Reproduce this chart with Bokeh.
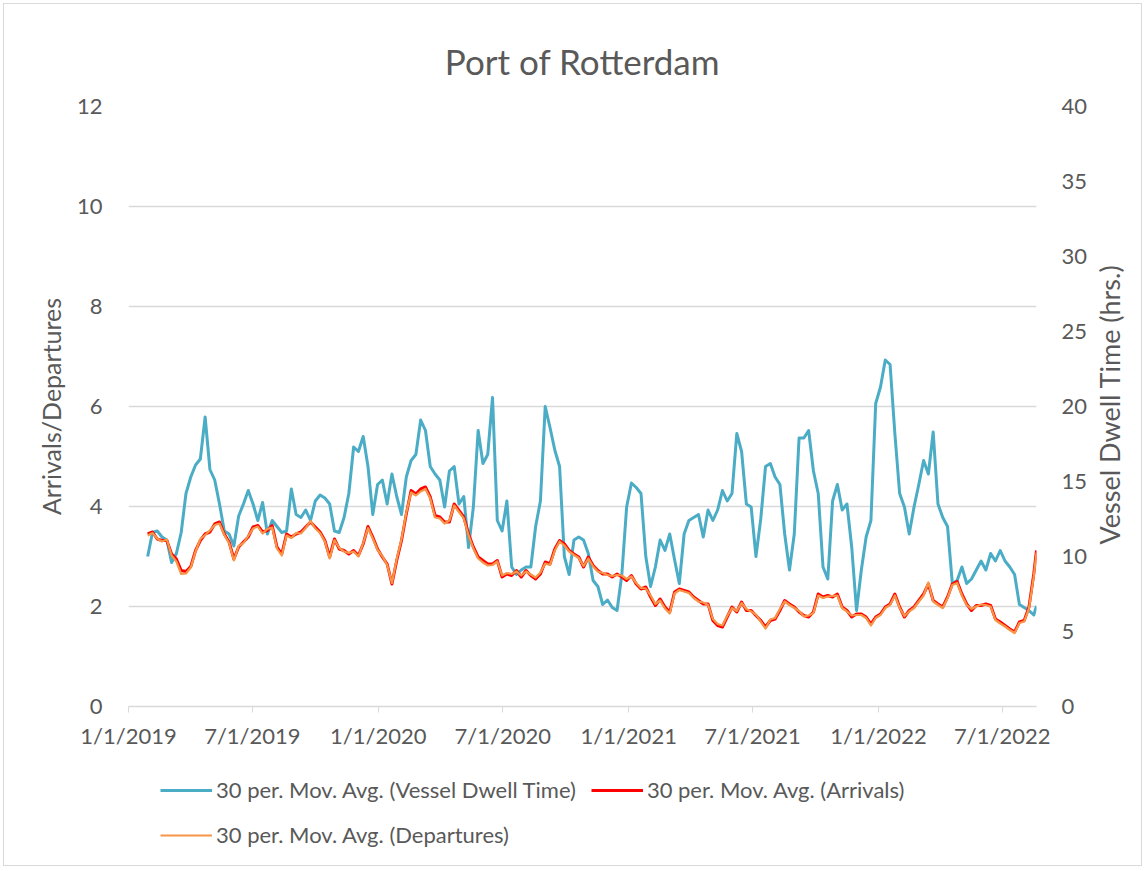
import math
import pandas as pd
from bokeh.plotting import figure
from bokeh.layouts import column
from bokeh.models import (Range1d, LinearAxis, FixedTicker, Legend, LegendItem)
from bokeh.embed import file_html
from bokeh.resources import INLINE

# ---------------- data (weekly readings of the 30-period moving averages) ----------------
first_date = "2019-01-29"
last_date = "2022-08-20"

dwell_time = [
    10.0, 11.6, 11.7, 11.3, 11.1, 9.6, 10.2, 11.6, 14.2, 15.3, 16.1, 16.5, 19.3, 15.8, 15.1, 13.5, 11.7, 11.5,
    10.7, 12.7, 13.5, 14.4, 13.5, 12.4, 13.6, 11.5, 12.4, 12.0, 11.6, 11.7, 14.5, 12.8, 12.6, 13.1, 12.4,
    13.7, 14.1, 13.9, 13.5, 11.7, 11.6, 12.6, 14.2, 17.3, 17.0, 18.0, 16.0, 12.8, 14.8, 15.1, 13.5, 15.5, 14.0,
    12.8, 15.3, 16.4, 16.8, 19.1, 18.4, 16.0, 15.5, 15.1, 13.3, 15.7, 16.0, 13.5, 14.0, 10.6, 13.3, 18.4, 16.2,
    16.8, 20.6,
    12.4, 11.7, 13.7, 9.3, 8.8, 9.1, 9.3, 9.3, 12.0, 13.7, 20.0, 18.6, 17.1, 16.0, 10.0, 8.8, 11.1, 11.3, 11.1,
    10.2, 8.4, 8.0, 6.8, 7.1, 6.6, 6.4, 8.8, 13.3, 14.9, 14.6, 14.2, 10.0, 8.0, 9.3, 11.1, 10.4, 11.5, 9.8,
    8.2, 11.5, 12.4, 12.6, 12.8, 11.3, 13.1, 12.4, 13.1, 14.4, 13.7, 14.2, 18.2, 17.0, 13.5, 13.3, 10.0, 12.5,
    16.0, 16.2, 15.3, 14.8, 11.5, 9.1, 11.5, 17.9, 17.9, 18.4, 15.7, 14.2, 9.3, 8.5, 13.7, 14.8, 13.1, 13.5,
    10.6, 6.4,
    9.1, 11.3, 12.4, 20.2, 21.3, 23.1, 22.8, 18.2, 14.2, 13.3, 11.5, 13.3, 14.8, 16.4, 15.5, 18.3, 13.5, 12.6,
    12.0, 8.2, 8.4, 9.3, 8.2, 8.5, 9.1, 9.7, 9.1, 10.2, 9.7, 10.4, 9.7, 9.3, 8.8, 6.8, 6.6, 6.4, 6.1, 6.7,
]

arrivals = [
    3.45, 3.49, 3.35, 3.32, 3.32, 3.05, 2.95, 2.72, 2.70, 2.80, 3.12, 3.32, 3.45, 3.49, 3.65, 3.69, 3.45, 3.29,
    2.95, 3.19, 3.29, 3.39, 3.59, 3.62, 3.49, 3.52, 3.62, 3.19, 3.05, 3.45, 3.39, 3.45, 3.49, 3.59, 3.69,
    3.59, 3.49, 3.32, 2.99, 3.35, 3.15, 3.12, 3.05, 3.12, 3.02, 3.25, 3.60, 3.39, 3.15, 2.99, 2.85, 2.45, 2.92,
    3.32, 3.85, 4.32, 4.25, 4.35, 4.39, 4.19, 3.82, 3.79, 3.69, 3.69, 4.05, 3.92, 3.79, 3.45, 3.19, 2.99, 2.92,
    2.85, 2.85,
    2.92, 2.59, 2.65, 2.62, 2.72, 2.59, 2.72, 2.62, 2.55, 2.65, 2.89, 2.85, 3.15, 3.32, 3.25, 3.12, 3.05, 2.99,
    2.79, 2.99, 2.82, 2.72, 2.65, 2.65, 2.59, 2.65, 2.59, 2.52, 2.62, 2.45, 2.35, 2.39, 2.19, 2.02, 2.15, 1.99,
    1.89, 2.29,
    2.35, 2.32, 2.29, 2.19, 2.12, 2.05, 2.05, 1.72, 1.62, 1.59, 1.79, 1.99, 1.89, 2.09, 1.92, 1.92, 1.82, 1.72,
    1.59, 1.72, 1.75, 1.92, 2.12, 2.05, 1.99, 1.89, 1.82, 1.79, 1.89, 2.25, 2.19, 2.22, 2.19, 2.25, 1.99, 1.92,
    1.79, 1.85,
    1.85, 1.79, 1.65, 1.79, 1.85, 1.99, 2.05, 2.25, 1.99, 1.79, 1.92, 1.99, 2.12, 2.25, 2.45, 2.12, 2.05, 1.99,
    2.19, 2.45, 2.50, 2.25, 2.05, 1.92, 2.02, 2.02, 2.05, 2.02, 1.75, 1.69, 1.62, 1.55, 1.49, 1.69, 1.72, 1.99,
    2.65, 3.12,
]

departures = [
    3.42, 3.47, 3.36, 3.30, 3.34, 3.02, 2.90, 2.65, 2.66, 2.78, 3.10, 3.35, 3.43, 3.52, 3.63, 3.66, 3.43, 3.27,
    2.92, 3.21, 3.27, 3.41, 3.56, 3.60, 3.46, 3.55, 3.58, 3.16, 3.02, 3.42, 3.37, 3.47, 3.46, 3.57, 3.71,
    3.56, 3.47, 3.30, 2.96, 3.33, 3.17, 3.10, 3.07, 3.10, 3.00, 3.27, 3.57, 3.36, 3.13, 3.01, 2.83, 2.47, 2.95,
    3.35, 3.88, 4.28, 4.22, 4.30, 4.35, 4.16, 3.78, 3.76, 3.66, 3.72, 4.02, 3.89, 3.76, 3.42, 3.16, 2.96, 2.88,
    2.82, 2.83,
    2.90, 2.62, 2.67, 2.65, 2.70, 2.62, 2.70, 2.64, 2.58, 2.68, 2.86, 2.83, 3.12, 3.30, 3.22, 3.10, 3.03, 2.97,
    2.81, 2.96, 2.80, 2.70, 2.67, 2.63, 2.61, 2.63, 2.62, 2.55, 2.60, 2.47, 2.37, 2.36, 2.22, 2.05, 2.12, 1.96,
    1.86, 2.26,
    2.33, 2.30, 2.27, 2.17, 2.10, 2.08, 2.03, 1.75, 1.65, 1.62, 1.81, 1.97, 1.91, 2.07, 1.95, 1.90, 1.84, 1.70,
    1.56, 1.74, 1.77, 1.95, 2.10, 2.03, 1.97, 1.91, 1.80, 1.82, 1.87, 2.22, 2.17, 2.20, 2.21, 2.22, 1.97, 1.90,
    1.82, 1.83,
    1.83, 1.77, 1.62, 1.77, 1.83, 1.97, 2.03, 2.22, 1.97, 1.81, 1.90, 1.97, 2.10, 2.22, 2.48, 2.10, 2.03, 1.97,
    2.17, 2.43, 2.47, 2.22, 2.03, 1.95, 2.00, 2.04, 2.03, 2.00, 1.73, 1.66, 1.60, 1.53, 1.47, 1.67, 1.70, 1.96,
    2.60, 3.08,
]

x_ticks = ["2019-01-01", "2019-07-01", "2020-01-01", "2020-07-01",
           "2021-01-01", "2021-07-01", "2022-01-01", "2022-07-01"]
x_tick_labels = ["1/1/2019", "7/1/2019", "1/1/2020", "7/1/2020",
                 "1/1/2021", "7/1/2021", "1/1/2022", "7/1/2022"]
left_ticks = [0, 2, 4, 6, 8, 10, 12]
right_ticks = [0, 5, 10, 15, 20, 25, 30, 35, 40]

series_names = ["30 per. Mov. Avg. (Vessel Dwell Time)",
                "30 per. Mov. Avg. (Arrivals)",
                "30 per. Mov. Avg. (Departures)"]
title_text = "Port of Rotterdam"
left_title = "Arrivals/Departures"
right_title = "Vessel Dwell Time (hrs.)"

# ---------------- styling ----------------
FONT = "Lato"
TXT = "#595959"
GRID = "#d9d9d9"
C_DWELL = "#4bacc6"
C_ARR = "#ff0000"
C_DEP = "#f79646"
W_DWELL, W_ARR, W_DEP = 3, 3, 2.2
RIGHT_TITLE_START = 10.8   # where the rotated right-hand title begins (hrs. scale), so it sits centred


def dates_for(vals):
    d = list(pd.date_range(first_date, periods=len(vals) - 1, freq="7D"))
    d.append(pd.Timestamp(last_date))
    return d


def ms(s):
    return float(pd.Timestamp(s).value // 10**6)


p = figure(width=1145, height=760, x_axis_type="datetime",
           x_range=Range1d(ms("2019-01-01"), ms(last_date)), y_range=Range1d(0, 12),
           output_backend="svg", toolbar_location=None,
           min_border_left=128, min_border_right=108, min_border_top=106, min_border_bottom=54)
p.outline_line_color = None
p.background_fill_color = None
p.border_fill_color = None
p.extra_y_ranges = {"dwell": Range1d(0, 40)}

# title
p.title.text = title_text
p.title.align = "center"
p.title.text_font = FONT
p.title.text_font_size = "35px"
p.title.text_font_style = "normal"
p.title.text_color = TXT
p.title.standoff = 49

# grids
p.xgrid.visible = False
p.ygrid.ticker = FixedTicker(ticks=left_ticks)
p.ygrid.grid_line_color = GRID
p.ygrid.grid_line_width = 1.4

# x axis
xa = p.xaxis[0]
xa.ticker = FixedTicker(ticks=[ms(t) for t in x_ticks])
xa.major_label_overrides = {ms(t): lab for t, lab in zip(x_ticks, x_tick_labels)}
xa.axis_line_color = GRID
xa.axis_line_width = 1.4
xa.major_tick_line_color = GRID
xa.major_tick_out = 6
xa.major_tick_in = 0
xa.minor_tick_line_color = None
xa.major_label_standoff = 9
xa.major_label_text_font = FONT
xa.major_label_text_font_size = "22px"
xa.major_label_text_color = TXT

# left axis
ya = p.yaxis[0]
ya.ticker = FixedTicker(ticks=left_ticks)
ya.axis_line_color = None
ya.major_tick_line_color = None
ya.major_tick_out = 0
ya.major_tick_in = 0
ya.minor_tick_line_color = None
ya.major_label_standoff = 26
ya.major_label_text_font = FONT
ya.major_label_text_font_size = "22px"
ya.major_label_text_color = TXT
ya.axis_label = left_title
ya.axis_label_text_font = FONT
ya.axis_label_text_font_size = "25px"
ya.axis_label_text_font_style = "normal"
ya.axis_label_text_color = TXT
ya.axis_label_standoff = 8

# right axis (ticks)
ra = LinearAxis(y_range_name="dwell", ticker=FixedTicker(ticks=right_ticks))
ra.axis_line_color = None
ra.major_tick_line_color = None
ra.major_tick_out = 0
ra.major_tick_in = 0
ra.minor_tick_line_color = None
ra.major_label_standoff = 25
ra.major_label_text_font = FONT
ra.major_label_text_font_size = "22px"
ra.major_label_text_color = TXT
p.add_layout(ra, "right")

# right axis title, reading bottom-to-top like the reference
rt = LinearAxis(y_range_name="dwell", ticker=FixedTicker(ticks=[RIGHT_TITLE_START]))
rt.major_label_overrides = {RIGHT_TITLE_START: right_title}
rt.major_label_orientation = math.pi / 2
rt.axis_line_color = None
rt.major_tick_line_color = None
rt.major_tick_out = 0
rt.major_tick_in = 0
rt.minor_tick_line_color = None
rt.major_label_standoff = 19
rt.major_label_text_font = FONT
rt.major_label_text_font_size = "27px"
rt.major_label_text_color = TXT
p.add_layout(rt, "right")

# lines
p.line(dates_for(dwell_time), dwell_time, y_range_name="dwell",
       line_color=C_DWELL, line_width=W_DWELL, line_join="round")
p.line(dates_for(arrivals), arrivals, line_color=C_ARR, line_width=W_ARR, line_join="round")
p.line(dates_for(departures), departures, line_color=C_DEP, line_width=W_DEP, line_join="round")

# ---------------- legend strip below the chart ----------------
lp = figure(width=1145, height=109, x_range=Range1d(0, 1), y_range=Range1d(0, 1),
            output_backend="svg", toolbar_location=None,
            x_axis_location=None, y_axis_location=None,
            min_border_left=0, min_border_right=0, min_border_top=0, min_border_bottom=0)
lp.outline_line_color = None
lp.grid.visible = False
lp.background_fill_color = None
lp.border_fill_color = None
# same series, styled as in the chart; they fall outside this strip's ranges, only their legend keys show
k_dwell = lp.line(dates_for(dwell_time), dwell_time, line_color=C_DWELL, line_width=W_DWELL)
k_arr = lp.line(dates_for(arrivals), arrivals, line_color=C_ARR, line_width=W_ARR)
k_dep = lp.line(dates_for(departures), departures, line_color=C_DEP, line_width=W_DEP)

legend_style = dict(orientation="horizontal", padding=0, margin=0, spacing=15,
                    border_line_color=None, background_fill_alpha=0,
                    glyph_width=52, glyph_height=26, label_standoff=4, label_height=26,
                    label_text_font=FONT, label_text_font_size="22px", label_text_color=TXT)
lg1 = Legend(items=[LegendItem(label=series_names[0], renderers=[k_dwell]),
                    LegendItem(label=series_names[1], renderers=[k_arr])],
             location=(32, 66), **legend_style)
lg2 = Legend(items=[LegendItem(label=series_names[2], renderers=[k_dep])],
             location=(32, 21), **legend_style)
lp.add_layout(lg1, "center")
lp.add_layout(lg2, "center")

layout = column(p, lp, spacing=0)
layout.styles = {"outline": "1px solid #d9d9d9", "outline-offset": "-4px", "background-color": "white"}

open("out.html", "w").write(file_html(layout, INLINE))
